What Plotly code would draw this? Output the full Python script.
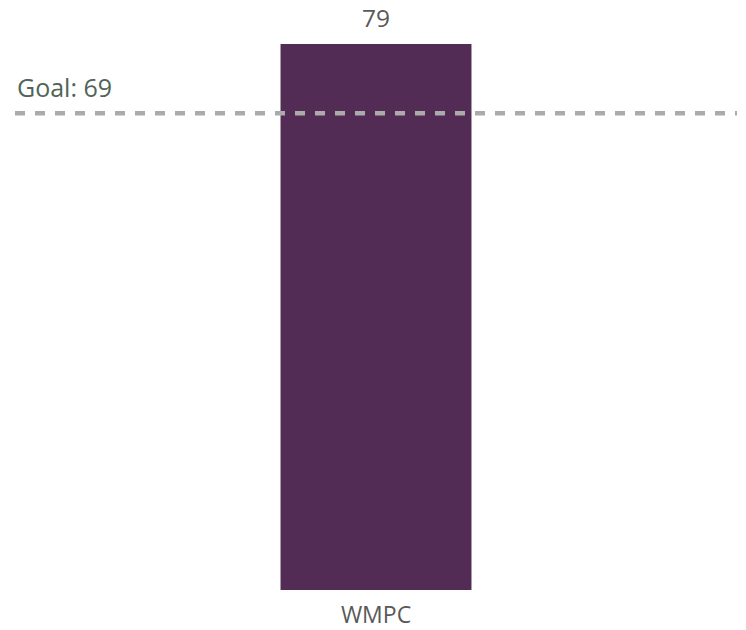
import plotly.graph_objects as go

categories = ["WMPC"]
values = [79]
goal_value = 69
goal_label = "Goal: 69"

BAR_COLOR = "#522C54"
TEXT_GREY = "#595959"
GOAL_COLOR = "#4F6557"
LINE_COLOR = "#ABABAB"
FONT = "Open Sans, Segoe UI, sans-serif"

fig = go.Figure()
fig.add_trace(go.Bar(
    x=categories, y=values,
    marker=dict(color=BAR_COLOR, line=dict(width=0)),
    hoverinfo="skip",
))

# value labels
for c, v in zip(categories, values):
    fig.add_annotation(x=c, y=v, xref="x", yref="y", text=str(v),
                       showarrow=False, yanchor="bottom", yshift=8,
                       font=dict(family=FONT, size=24.5, color=TEXT_GREY))

# goal line
fig.add_shape(type="line", xref="paper", yref="y", x0=0, x1=1,
              y0=goal_value, y1=goal_value,
              line=dict(color=LINE_COLOR, width=4.5, dash="10px,10px"),
              layer="above")
fig.add_annotation(xref="paper", yref="y", x=0, y=goal_value, text=goal_label,
                   showarrow=False, xanchor="left", yanchor="bottom", yshift=7,
                   font=dict(family=FONT, size=25, color=GOAL_COLOR))

fig.update_layout(
    width=746, height=630,
    margin=dict(l=15, r=9, t=30, b=40, autoexpand=False),
    paper_bgcolor="white", plot_bgcolor="white",
    bargap=0.7355,
    showlegend=False,
    xaxis=dict(showgrid=False, zeroline=False, showline=False, ticks="",
               automargin=False, ticklabelstandoff=9,
               tickfont=dict(family=FONT, size=23, color=TEXT_GREY)),
    yaxis=dict(range=[0, 81.03], visible=False, showgrid=False, zeroline=False,
               automargin=False),
)

# remove the browser's default 8px body margin so the figure sits at the page origin
fig.write_html("out.html", config={"displayModeBar": False},
               post_script="document.body.style.margin='0';")
